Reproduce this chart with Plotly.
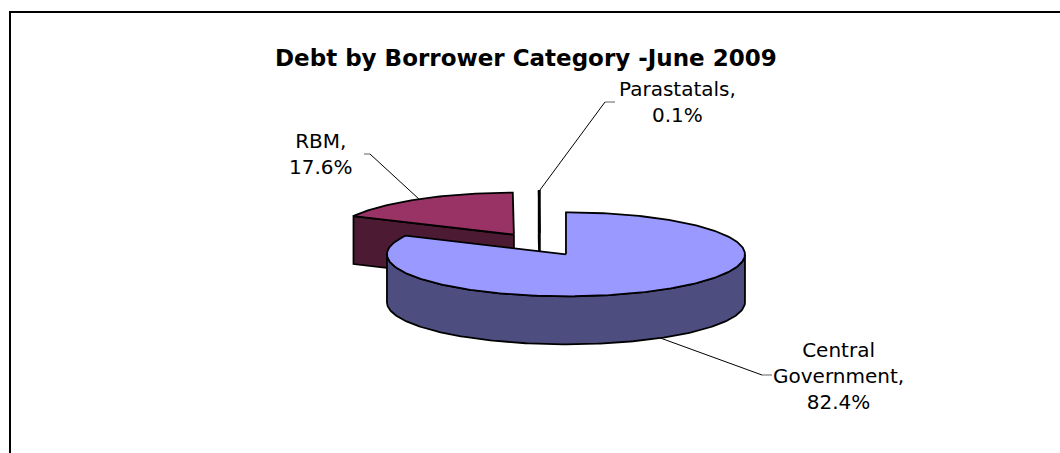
import math
import plotly.graph_objects as go

# Debt by borrower category, share of total (%)
categories = ["Central Government", "RBM", "Parastatals"]
shares = [82.4, 17.6, 0.1]
label_lines = [["Central", "Government,"], ["RBM,"], ["Parastatals,"]]

title_text = "Debt by Borrower Category -June 2009"

top_colors = ["#9999FF", "#993366", "#FFFFCC"]
side_colors = ["#4D4D80", "#4D1A33", "#80806A"]

# 3-D pie geometry (chart units = pixels)
W, H = 1060, 453
CX, CY = 540, 244.5      # centre of the un-exploded pie top
RX, RY = 179, 42         # ellipse radii of the top face
DEPTH = 48               # thickness of the pie
EXPLODE = 0.275          # explosion as a fraction of the radius
EDGE_W = 1.8             # outline width of the pie faces

# label block centres and leader elbows
label_pos = [(838, 375.5), (321, 154), (677, 102)]
leader_elbow = [((762, 375), (772, 375)), ((370, 154), (364, 154)), ((605, 102), (615, 102))]


def rim(cx, cy, theta, dz=0.0):
    t = math.radians(theta)
    return cx + RX * math.sin(t), cy - RY * math.cos(t) + dz


def arc(cx, cy, t0, t1, dz=0.0, n=120):
    steps = max(2, int(abs(t1 - t0) / 360 * n * 3))
    return [rim(cx, cy, t0 + (t1 - t0) * k / steps, dz) for k in range(steps + 1)]


total = sum(shares)
slices = []
acc = 0.0
for i, v in enumerate(shares):
    t0 = acc / total * 360
    acc += v
    t1 = acc / total * 360
    tm = (t0 + t1) / 2
    r = math.radians(tm)
    cx = CX + EXPLODE * RX * math.sin(r)
    cy = CY - EXPLODE * RY * math.cos(r)
    slices.append(dict(i=i, t0=t0, t1=t1, tm=tm, cx=cx, cy=cy))

fig = go.Figure()


def add_poly(pts, fill, lw=EDGE_W):
    xs = [p[0] for p in pts] + [pts[0][0]]
    ys = [p[1] for p in pts] + [pts[0][1]]
    fig.add_trace(go.Scatter(x=xs, y=ys, mode="lines", fill="toself",
                             fillcolor=fill, line=dict(color="black", width=lw),
                             hoverinfo="skip", showlegend=False))


# paint from back to front
for s in sorted(slices, key=lambda d: d["cy"]):
    i, t0, t1, cx, cy = s["i"], s["t0"], s["t1"], s["cx"], s["cy"]
    side = side_colors[i]
    # radial face at the start edge faces the viewer when sin(t0) < 0
    if math.sin(math.radians(t0)) < -1e-9:
        p = rim(cx, cy, t0)
        add_poly([(cx, cy), p, (p[0], p[1] + DEPTH), (cx, cy + DEPTH)], side)
    # radial face at the end edge faces the viewer when sin(t1) > 0
    if math.sin(math.radians(t1)) > 1e-9 and t1 < 360:
        p = rim(cx, cy, t1)
        add_poly([(cx, cy), p, (p[0], p[1] + DEPTH), (cx, cy + DEPTH)], side)
    # front part of the outer rim (90..270 degrees)
    a0, a1 = max(t0, 90), min(t1, 270)
    if a1 > a0:
        upper = arc(cx, cy, a0, a1)
        lower = arc(cx, cy, a1, a0, DEPTH)
        add_poly(upper + lower, side)
    # top face
    add_poly([(cx, cy)] + arc(cx, cy, t0, t1), top_colors[i])

# leader lines and labels
annotations = []
for s in slices:
    i = s["i"]
    tm = s["tm"]
    dz = DEPTH if 90 < tm < 270 else 0
    ax, ay = rim(s["cx"], s["cy"], tm, dz)
    (ex, ey), (hx, hy) = leader_elbow[i]
    fig.add_trace(go.Scatter(x=[ax, ex], y=[ay, ey], mode="lines",
                             line=dict(color="black", width=1),
                             hoverinfo="skip", showlegend=False))
    fig.add_trace(go.Scatter(x=[ex, hx], y=[ey, hy], mode="lines",
                             line=dict(color="#606060", width=1),
                             hoverinfo="skip", showlegend=False))
    lx, ly = label_pos[i]
    text = "<br>".join(label_lines[i] + [f"{shares[i]:.1f}%"])
    annotations.append(dict(x=lx, y=ly, xref="x", yref="y", text=text,
                            showarrow=False, xanchor="center", yanchor="middle",
                            align="center",
                            font=dict(family="DejaVu Sans", size=20, color="black")))

annotations.append(dict(x=526, y=58, xref="x", yref="y",
                        text=f"<b>{title_text}</b>", showarrow=False,
                        xanchor="center", yanchor="middle",
                        font=dict(family="DejaVu Sans", size=23, color="black")))

fig.update_layout(
    width=W, height=H,
    margin=dict(l=0, r=0, t=0, b=0),
    paper_bgcolor="white", plot_bgcolor="white",
    xaxis=dict(range=[0, W], visible=False, fixedrange=True),
    yaxis=dict(range=[H, 0], visible=False, fixedrange=True),
    annotations=annotations,
    shapes=[dict(type="rect", xref="x", yref="y", x0=10, y0=12, x1=W + 5, y1=H + 5,
                 line=dict(color="black", width=2), fillcolor="rgba(0,0,0,0)",
                 layer="below")],
    showlegend=False,
)

fig.write_html("out.html")
